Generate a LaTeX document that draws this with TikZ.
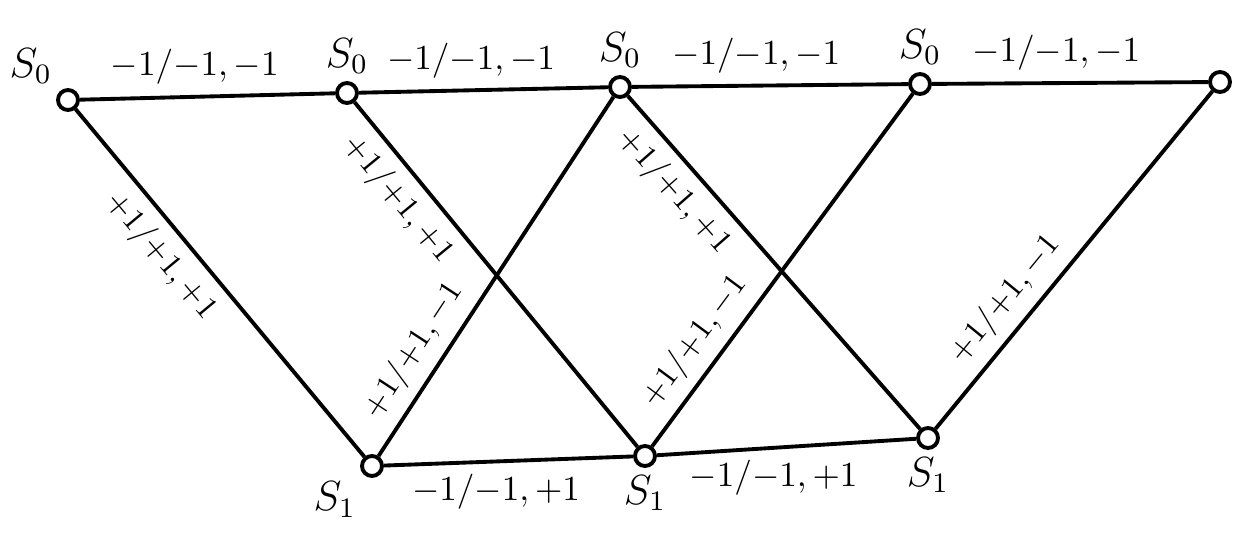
\documentclass[tikz,border=0pt]{standalone}
\usetikzlibrary{positioning}
\begin{document}
\begin{tikzpicture}[
  x=0.1mm, y=-0.1mm,
  state/.style={draw, circle, line width=1.1pt, inner sep=0pt, minimum size=2mm, fill=white},
  tr/.style={line width=1.1pt},
  lbl/.style={font=\normalsize, inner sep=3pt},
  dlbl/.style={lbl, font=\small, sloped},
  st/.style={font=\large, inner sep=2pt},
]
\useasboundingbox (0,0) rectangle (1243,554);
% states along the top row
\node[state, label={[st]above left:$S_0$}] (t0) at (68,100) {};
\node[state, label={[st]above:$S_0$}] (t1) at (347,93) {};
\node[state, label={[st]above:$S_0$}] (t2) at (620,87) {};
\node[state, label={[st]above:$S_0$}] (t3) at (920,84) {};
\node[state] (t4) at (1220,82) {};
% states along the bottom row
\node[state, label={[st]below left:$S_1$}] (b0) at (372,466) {};
\node[state, label={[st]below:$S_1$}] (b1) at (645,456) {};
\node[state, label={[st]below:$S_1$}] (b2) at (928,438) {};
% branches
\draw[tr] (t0) -- node[lbl, above, pos=0.45] {${-1}/{-1},{-1}$} (t1);
\draw[tr] (t1) -- node[lbl, above, pos=0.45] {${-1}/{-1},{-1}$} (t2);
\draw[tr] (t2) -- node[lbl, above, pos=0.45] {${-1}/{-1},{-1}$} (t3);
\draw[tr] (t3) -- node[lbl, above, pos=0.45] {${-1}/{-1},{-1}$} (t4);
\draw[tr] (t0) -- node[dlbl, below, pos=0.37] {${+1}/{+1},{+1}$} (b0);
\draw[tr] (t1) -- node[dlbl, below, pos=0.23] {${+1}/{+1},{+1}$} (b1);
\draw[tr] (t2) -- node[dlbl, below, pos=0.23] {${+1}/{+1},{+1}$} (b2);
\draw[tr] (b0) -- node[dlbl, above, pos=0.25] {${+1}/{+1},{-1}$} (t2);
\draw[tr] (b1) -- node[dlbl, above, pos=0.25] {${+1}/{+1},{-1}$} (t3);
\draw[tr] (b2) -- node[dlbl, above, pos=0.33] {${+1}/{+1},{-1}$} (t4);
\draw[tr] (b0) -- node[lbl, below, pos=0.45] {${-1}/{-1},{+1}$} (b1);
\draw[tr] (b1) -- node[lbl, below, pos=0.45] {${-1}/{-1},{+1}$} (b2);
\end{tikzpicture}
\end{document}
